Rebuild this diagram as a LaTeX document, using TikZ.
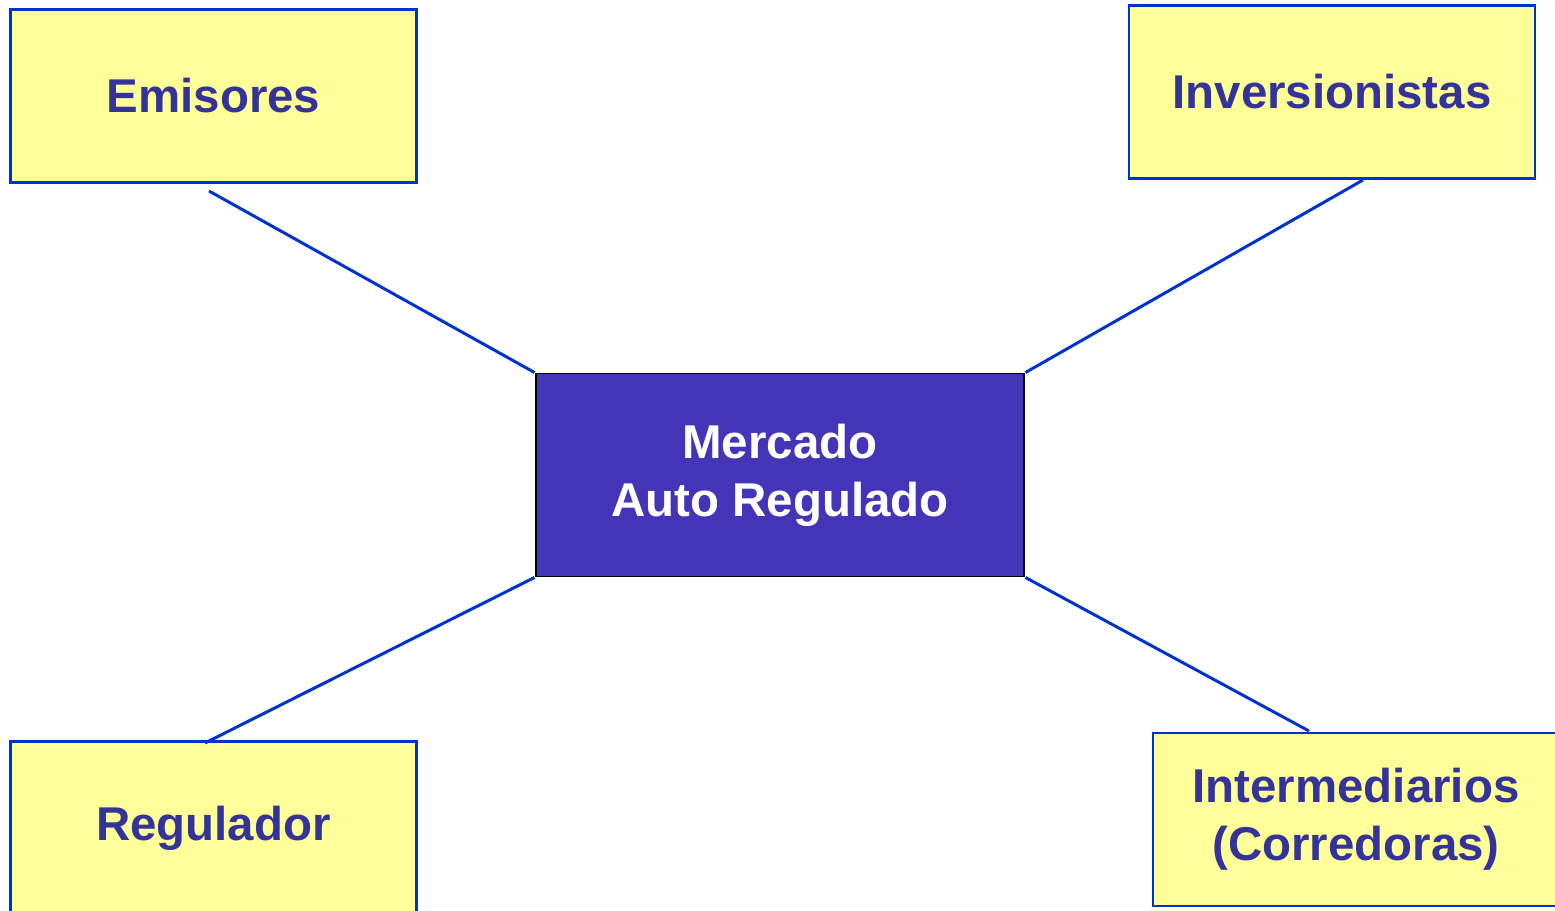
\documentclass[tikz,border=0pt]{standalone}
\usepackage{fontspec}
\setmainfont{Liberation Sans}

\definecolor{boxyellow}{HTML}{FFFF99}
\definecolor{boxblue}{HTML}{0033CC}
\definecolor{textblue}{HTML}{333399}
\definecolor{marketfill}{HTML}{4435B8}

\tikzset{
    actor/.style={draw=boxblue, line width=1.4pt, fill=boxyellow,
        minimum width=8.12cm, minimum height=3.46cm, inner sep=0pt,
        text=textblue, align=center,
        font=\fontsize{27}{33}\selectfont\bfseries},
    market/.style={draw=black, line width=1.1pt, fill=marketfill,
        minimum width=9.78cm, minimum height=4.06cm, inner sep=0pt,
        text=white, align=center,
        font=\fontsize{27}{33}\selectfont\bfseries},
    link/.style={draw=boxblue, line width=1.7pt}
}

\begin{document}
\begin{tikzpicture}[x=0.02cm, y=-0.02cm]
        \useasboundingbox (0, 0) rectangle (1555, 911);
        \node[market] at (780, 475) (mercado) {Mercado\\Auto Regulado};
        \node[actor] at (213.5, 96) (emisores) {Emisores};
        \node[actor] at (1332, 92) (inversionistas) {Inversionistas};
        \node[actor] at (213.5, 828) (regulador) {Regulador};
        \node[actor] at (1356, 819.5) (intermediarios) {Intermediarios\\(Corredoras)};
        \coordinate (emisoresend) at (209, 191);
        \coordinate (inversionistasend) at (1363, 180);
        \coordinate (reguladorend) at (205, 743);
        \coordinate (intermediariosend) at (1309, 731);
        \draw[link] (mercado.north west) -- (emisoresend);
        \draw[link] (mercado.north east) -- (inversionistasend);
        \draw[link] (mercado.south west) -- (reguladorend);
        \draw[link] (mercado.south east) -- (intermediariosend);
    \end{tikzpicture}
\end{document}
